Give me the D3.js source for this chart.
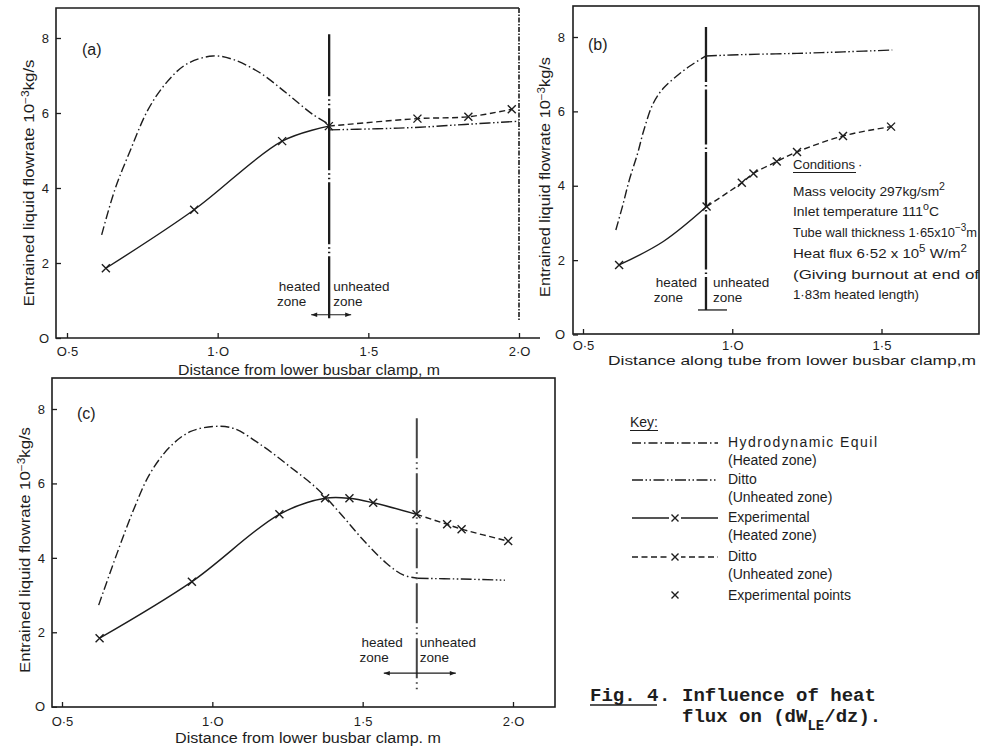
<!DOCTYPE html>
<html>
<head>
<meta charset="utf-8">
<script src="https://cdn.jsdelivr.net/npm/d3@7"></script>
<style>
  html, body { margin: 0; padding: 0; background: #fff; }
  svg { display: block; }
</style>
</head>
<body>
<svg id="fig" width="982" height="749" font-family="'Liberation Sans', Arial, sans-serif" fill="#1d1d1d"></svg>
<script>
// ---------- tick values and labels ----------
const xTicksLong = [0.5, 1.0, 1.5, 2.0];
const xTickLabelsLong = ["O·5", "1·O", "1·5", "2·O"];
const xTicksShort = [0.5, 1.0, 1.5];
const xTickLabelsShort = ["O·5", "1·O", "1·5"];
const yTicks = [0, 2, 4, 6, 8];
const yTickLabels = ["O", "2", "4", "6", "8"];

// ---------- panel (a): distance from lower busbar clamp (m) vs entrained flowrate (1e-3 kg/s) ----------
const boundaryA = 1.37;   // end of heated zone
const tubeEndA = 2.0;
const hydroHeatedA = [[0.615, 2.75], [0.659, 3.96], [0.709, 4.98], [0.769, 6.09], [0.83, 6.81],
  [0.896, 7.30], [0.984, 7.52], [1.05, 7.43], [1.139, 7.08], [1.227, 6.54], [1.316, 5.96], [1.37, 5.70]];
const hydroUnheatedA = [[1.37, 5.55], [1.53, 5.58], [1.67, 5.62], [1.83, 5.70], [2.0, 5.78]];
const expHeatedA = [[0.629, 1.86], [0.922, 3.42], [1.214, 5.25], [1.369, 5.65]];
const expUnheatedA = [[1.369, 5.65], [1.663, 5.85], [1.832, 5.90], [1.976, 6.10]];

// ---------- panel (b): distance along tube ----------
const boundaryB = 0.912;
const hydroHeatedB = [[0.61, 2.81], [0.632, 3.44], [0.655, 4.15], [0.683, 4.87], [0.704, 5.50],
  [0.735, 6.21], [0.769, 6.62], [0.814, 6.95], [0.858, 7.22], [0.912, 7.49]];
const hydroUnheatedB = [[0.912, 7.49], [1.05, 7.53], [1.217, 7.56], [1.373, 7.60], [1.536, 7.65]];
const expHeatedB = [[0.621, 1.87], [0.769, 2.50], [0.914, 3.44]];
const expPointsHeatedB = [[0.621, 1.87], [0.914, 3.44]];
const expUnheatedB = [[0.914, 3.44], [1.032, 4.08], [1.071, 4.33], [1.149, 4.65], [1.217, 4.91],
  [1.371, 5.34], [1.532, 5.59]];

// ---------- panel (c) ----------
const boundaryC = 1.68;
const hydroHeatedC = [[0.622, 2.73], [0.683, 4.12], [0.738, 5.29], [0.793, 6.27], [0.86, 6.99],
  [0.926, 7.39], [1.004, 7.53], [1.07, 7.48], [1.17, 6.99], [1.258, 6.45], [1.347, 5.87],
  [1.425, 5.20], [1.502, 4.48], [1.58, 3.85], [1.635, 3.54], [1.683, 3.45]];
const hydroUnheatedC = [[1.683, 3.45], [1.83, 3.43], [1.973, 3.40]];
const expHeatedC = [[0.625, 1.84], [0.932, 3.36], [1.223, 5.17], [1.375, 5.60], [1.456, 5.60],
  [1.535, 5.48], [1.679, 5.17]];
const expUnheatedC = [[1.679, 5.17], [1.781, 4.90], [1.829, 4.77], [1.984, 4.45]];

// ---------- text ----------
const yTitleText = ["Entrained liquid flowrate 10", "−3", "kg/s"];
const conditionLines = [
  ["Mass velocity 297kg/sm", "2", ""],
  ["Inlet temperature 111", "o", "C"],
  ["Tube wall thickness 1·65x10", "−3", "m"],
  ["Heat flux 6·52 x 10", "5", " W/m", "2"],
  ["(Giving burnout at end of"],
  ["1·83m heated length)"]
];
const keyEntries = [
  ["Hydrodynamic Equil", "(Heated zone)"],
  ["Ditto", "(Unheated zone)"],
  ["Experimental", "(Heated zone)"],
  ["Ditto", "(Unheated zone)"]
];

// ---------- styles ----------
const INK = "#1d1d1d";
const DASH_HYDRO_HEATED = "9,3,1.5,3";
const DASH_HYDRO_UNHEATED = "11,2.5,1.5,2.5,1.5,2.5";
const DASH_EXP_UNHEATED = "6,3.5";
const LINE_W = 1.4;

const svg = d3.select("#fig");

// panel layouts (pixels)
const layouts = [
  {
    tag: "(a)", tagXY: [82, 55],
    frame: { l: 56, t: 8, r: 540, b: 338 }, closed: false,
    xDomain: [0.5, 2.0], xRange: [67, 519], yRange: [338, 38],
    xTicks: xTicksLong, xLabels: xTickLabelsLong, xPad: 8.5, yPad: 7,
    yTitle: { x: 34, y: 183, len: 247 },
    xTitle: { text: "Distance from lower busbar clamp, m", x: 178, y: 375, len: 262, size: 14 },
    boundary: boundaryA, vline: { y0: 0.48, y1: 8.1, dash: "62,3,1.5,3,1.5,3", w: 2.3, color: INK },
    zone: { ly: 1.39, lg: 9, rg: 4, arrowY: 0.62, aL: 18, aR: 22, arrows: true },
    series: { hh: hydroHeatedA, hu: hydroUnheatedA, eh: expHeatedA, ehp: expHeatedA, eu: expUnheatedA },
    tubeEnd: tubeEndA
  },
  {
    tag: "(b)", tagXY: [588, 50],
    frame: { l: 573, t: 6, r: 979, b: 334 }, closed: true,
    xDomain: [0.5, 1.5], xRange: [583, 881.5], yRange: [334.5, 37],
    xTicks: xTicksShort, xLabels: xTickLabelsShort, xPad: 7, yPad: 8,
    yTitle: { x: 550, y: 177, len: 240 },
    xTitle: { text: "Distance along tube from lower busbar clamp,m", x: 608, y: 365, len: 368, size: 13 },
    boundary: boundaryB, vline: { y0: 0.66, y1: 8.27, dash: "55,3,1.5,3", w: 2.3, color: INK },
    zone: { ly: 1.40, lg: 9, rg: 7, barY: 0.66, aL: 8, aR: 21, arrows: false },
    series: { hh: hydroHeatedB, hu: hydroUnheatedB, eh: expHeatedB, ehp: expPointsHeatedB, eu: expUnheatedB }
  },
  {
    tag: "(c)", tagXY: [77, 419],
    frame: { l: 52, t: 378, r: 555, b: 707 }, closed: true,
    xDomain: [0.5, 2.0], xRange: [62, 513], yRange: [706.7, 409],
    xTicks: xTicksLong, xLabels: xTickLabelsLong, xPad: 10, yPad: 7,
    yTitle: { x: 30, y: 550, len: 246 },
    xTitle: { text: "Distance from lower busbar clamp. m", x: 175, y: 743, len: 266, size: 14 },
    boundary: boundaryC, vline: { y0: 0.36, y1: 7.75, dash: "40,4,1.5,4,1.5,4", w: 2, color: "#444" },
    zone: { ly: 1.73, lg: 14, rg: 3, arrowY: 0.9, aL: 33, aR: 39, arrows: true },
    series: { hh: hydroHeatedC, hu: hydroUnheatedC, eh: expHeatedC, ehp: expHeatedC, eu: expUnheatedC }
  }
];

function crossPath(s) {
  return `M${-s},${-s}L${s},${s}M${-s},${s}L${s},${-s}`;
}

function drawPanel(L) {
  const g = svg.append("g");
  const x = d3.scaleLinear().domain(L.xDomain).range(L.xRange);
  const y = d3.scaleLinear().domain([0, 8]).range(L.yRange);
  const f = L.frame;

  // frame
  if (L.closed) {
    g.append("rect").attr("x", f.l).attr("y", f.t).attr("width", f.r - f.l).attr("height", f.b - f.t)
      .attr("fill", "none").attr("stroke", INK).attr("stroke-width", 1.6);
  } else {
    g.append("path")
      .attr("d", `M${x(L.tubeEnd)},${f.t}H${f.l}V${f.b}H${f.r}`)
      .attr("fill", "none").attr("stroke", INK).attr("stroke-width", 1.6);
  }

  // axes (ticks point into the plot)
  const xAxis = d3.axisBottom(x).tickValues(L.xTicks).tickFormat((d, i) => L.xLabels[i])
    .tickSizeInner(-5).tickSizeOuter(0).tickPadding(L.xPad);
  const yAxis = d3.axisLeft(y).tickValues(yTicks).tickFormat((d, i) => yTickLabels[i])
    .tickSizeInner(-5).tickSizeOuter(0).tickPadding(L.yPad);
  const gx = g.append("g").attr("transform", `translate(0,${f.b})`).call(xAxis);
  const gy = g.append("g").attr("transform", `translate(${f.l},0)`).call(yAxis);
  [gx, gy].forEach(a => {
    a.attr("font-family", null).attr("font-size", 13);
    a.select(".domain").remove();
    a.selectAll("line").attr("stroke", INK).attr("stroke-width", 1.3);
    a.selectAll("text").attr("fill", INK);
  });

  // panel tag
  g.append("text").attr("x", L.tagXY[0]).attr("y", L.tagXY[1]).attr("font-size", 16).text(L.tag);

  // axis titles
  const yt = g.append("text")
    .attr("transform", `translate(${L.yTitle.x},${L.yTitle.y}) rotate(-90)`)
    .attr("text-anchor", "middle").attr("font-size", 14)
    .attr("textLength", L.yTitle.len).attr("lengthAdjust", "spacingAndGlyphs");
  yt.append("tspan").text(yTitleText[0]);
  yt.append("tspan").attr("dy", -5).attr("font-size", 10).text(yTitleText[1]);
  yt.append("tspan").attr("dy", 5).text(yTitleText[2]);

  g.append("text").attr("x", L.xTitle.x).attr("y", L.xTitle.y).attr("font-size", L.xTitle.size)
    .attr("textLength", L.xTitle.len).attr("lengthAdjust", "spacingAndGlyphs")
    .text(L.xTitle.text);

  const line = d3.line().x(d => x(d[0])).y(d => y(d[1])).curve(d3.curveCatmullRom.alpha(0.5));
  const S = L.series;

  // tube end line (panel a)
  if (L.tubeEnd !== undefined) {
    g.append("line").attr("x1", x(L.tubeEnd)).attr("x2", x(L.tubeEnd))
      .attr("y1", f.t).attr("y2", y(0.48))
      .attr("stroke", "#2a2a2a").attr("stroke-width", 1.7).attr("stroke-dasharray", "5,1.5,1.5,1.5");
  }

  // hydrodynamic equilibrium curves
  g.append("path").attr("d", line(S.hh)).attr("fill", "none").attr("stroke", INK)
    .attr("stroke-width", LINE_W).attr("stroke-dasharray", DASH_HYDRO_HEATED);
  g.append("path").attr("d", line(S.hu)).attr("fill", "none").attr("stroke", INK)
    .attr("stroke-width", LINE_W).attr("stroke-dasharray", DASH_HYDRO_UNHEATED);

  // experimental curves
  g.append("path").attr("d", line(S.eh)).attr("fill", "none").attr("stroke", INK)
    .attr("stroke-width", LINE_W);
  g.append("path").attr("d", line(S.eu)).attr("fill", "none").attr("stroke", INK)
    .attr("stroke-width", LINE_W).attr("stroke-dasharray", DASH_EXP_UNHEATED);

  // boundary between heated and unheated zones
  const bx = x(L.boundary);
  g.append("line").attr("x1", bx).attr("x2", bx)
    .attr("y1", y(L.vline.y1)).attr("y2", y(L.vline.y0))
    .attr("stroke", L.vline.color).attr("stroke-width", L.vline.w)
    .attr("stroke-dasharray", L.vline.dash);

  // experimental points
  const pts = S.ehp.concat(S.eu.slice(1));
  g.selectAll(".pt").data(pts).join("path").attr("class", "pt")
    .attr("transform", d => `translate(${x(d[0])},${y(d[1])})`)
    .attr("d", crossPath(4)).attr("fill", "none").attr("stroke", INK).attr("stroke-width", 1.4);

  // zone annotation
  const Z = L.zone;
  const yl1 = y(Z.ly) + 5, yl2 = yl1 + 15;
  g.append("text").attr("x", bx - Z.lg).attr("y", yl1).attr("text-anchor", "end").attr("font-size", 13.5).text("heated");
  g.append("text").attr("x", bx - Z.lg - 14).attr("y", yl2).attr("text-anchor", "end").attr("font-size", 13.5).text("zone");
  g.append("text").attr("x", bx + Z.rg).attr("y", yl1).attr("font-size", 13.5).text("unheated");
  g.append("text").attr("x", bx + Z.rg).attr("y", yl2).attr("font-size", 13.5).text("zone");

  if (Z.arrows) {
    const ay = y(Z.arrowY);
    g.append("line").attr("x1", bx - Z.aL).attr("x2", bx + Z.aR).attr("y1", ay).attr("y2", ay)
      .attr("stroke", INK).attr("stroke-width", 1.2);
    g.append("path").attr("d", `M${bx - Z.aL},${ay}l6,-2.2v4.4z`).attr("fill", INK);
    g.append("path").attr("d", `M${bx + Z.aR},${ay}l-6,-2.2v4.4z`).attr("fill", INK);
  } else {
    const by = y(Z.barY);
    g.append("line").attr("x1", bx - Z.aL).attr("x2", bx + Z.aR).attr("y1", by).attr("y2", by)
      .attr("stroke", INK).attr("stroke-width", 1.3);
  }
}

layouts.forEach(drawPanel);

// ---------- conditions block (panel b) ----------
const cond = svg.append("g");
cond.append("text").attr("x", 793).attr("y", 169).attr("font-size", 13)
  .attr("textLength", 62).attr("lengthAdjust", "spacingAndGlyphs").text("Conditions");
cond.append("line").attr("x1", 793).attr("x2", 856).attr("y1", 172.5).attr("y2", 172.5)
  .attr("stroke", INK).attr("stroke-width", 1);
cond.append("text").attr("x", 858).attr("y", 169).attr("font-size", 13).text("·");
const condBase = [196, 216, 237, 258, 279, 299];
const condLen = [152, 146, 184, 174, 186, 126];
conditionLines.forEach((parts, i) => {
  const t = cond.append("text").attr("x", 793).attr("y", condBase[i]).attr("font-size", 13)
    .attr("textLength", condLen[i]).attr("lengthAdjust", "spacingAndGlyphs");
  t.append("tspan").text(parts[0]);
  if (parts.length > 1) {
    t.append("tspan").attr("dy", -6).attr("font-size", 10).text(parts[1]);
    t.append("tspan").attr("dy", 6).text(parts[2]);
  }
  if (parts.length > 3) {
    t.append("tspan").attr("dy", -6).attr("font-size", 10).text(parts[3]);
  }
});

// ---------- key ----------
const key = svg.append("g");
key.append("text").attr("x", 630).attr("y", 427).attr("font-size", 14).text("Key:");
key.append("line").attr("x1", 630).attr("x2", 658).attr("y1", 430.5).attr("y2", 430.5)
  .attr("stroke", INK).attr("stroke-width", 1);
const keyLineY = [443, 480, 518, 557];
const keyDash = [DASH_HYDRO_HEATED, DASH_HYDRO_UNHEATED, null, DASH_EXP_UNHEATED];
const keyTextLen = [149, null, null, null];
keyEntries.forEach((lab, i) => {
  const ly = keyLineY[i];
  const ln = key.append("line").attr("x1", 632).attr("x2", 718).attr("y1", ly).attr("y2", ly)
    .attr("stroke", INK).attr("stroke-width", LINE_W);
  if (keyDash[i]) ln.attr("stroke-dasharray", keyDash[i]);
  if (i >= 2) {
    key.append("rect").attr("x", 669).attr("y", ly - 5).attr("width", 12).attr("height", 10).attr("fill", "#fff");
    key.append("path").attr("transform", `translate(675,${ly})`).attr("d", crossPath(3.5))
      .attr("fill", "none").attr("stroke", INK).attr("stroke-width", 1.4);
  }
  const t1 = key.append("text").attr("x", 728).attr("y", ly + 4).attr("font-size", 14).text(lab[0]);
  if (keyTextLen[i]) t1.attr("textLength", keyTextLen[i]).attr("lengthAdjust", "spacing");
  key.append("text").attr("x", 728).attr("y", ly + 22).attr("font-size", 14).text(lab[1]);
});
key.append("path").attr("transform", "translate(675,595)").attr("d", crossPath(3.5))
  .attr("fill", "none").attr("stroke", INK).attr("stroke-width", 1.4);
key.append("text").attr("x", 728).attr("y", 600).attr("font-size", 14).text("Experimental points");

// ---------- caption ----------
const cap = svg.append("g")
  .attr("font-family", "'Liberation Mono', 'DejaVu Sans Mono', monospace")
  .attr("font-weight", "bold").attr("font-size", 19);
cap.append("text").attr("x", 590).attr("y", 701).text("Fig. 4");
cap.append("line").attr("x1", 590).attr("x2", 657).attr("y1", 705).attr("y2", 705)
  .attr("stroke", INK).attr("stroke-width", 1.3);
cap.append("text").attr("x", 659).attr("y", 701).text(".");
cap.append("text").attr("x", 682).attr("y", 701).text("Influence of heat");
const cap2 = cap.append("text").attr("x", 682).attr("y", 722);
cap2.append("tspan").text("flux on (dW");
cap2.append("tspan").attr("dy", 8).attr("font-size", 14).text("LE");
cap2.append("tspan").attr("dy", -8).text("/dz).");
</script>
</body>
</html>
